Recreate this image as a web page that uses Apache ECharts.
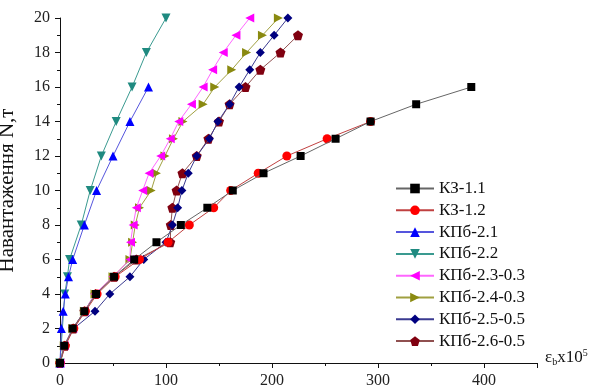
<!DOCTYPE html>
<html><head><meta charset="utf-8">
<script src="https://cdn.jsdelivr.net/npm/echarts@6/dist/echarts.min.js"></script>
<style>html,body{margin:0;padding:0;background:#fff}#c{width:591px;height:390px}</style>
</head><body><div id="c"></div>
<script>
const seriesNames = ['КЗ-1.1','КЗ-1.2','КПб-2.1','КПб-2.2','КПб-2.3-0.3','КПб-2.4-0.3','КПб-2.5-0.5','КПб-2.6-0.5'];
// strain (x) and load (y) per series
const k11_x = [0, 4, 12, 23, 34, 51, 70, 91, 114, 139, 163, 192, 227, 260, 293, 336, 388];
const k11_y = [0, 1, 2, 3, 4, 5, 6, 7, 8, 9, 10, 11, 12, 13, 14, 15, 16];
const k12_x = [0, 5, 13, 24, 35, 52, 75, 102, 122, 145, 161, 187, 214, 252, 293];
const k12_y = [0, 1, 2, 3, 4, 5, 6, 7, 8, 9, 10, 11, 12, 13, 14];
const p21_x = [0, 1.3, 3, 5, 8, 12, 23, 34.5, 50, 66, 83.5];
const p21_y = [0, 2, 3, 4, 5, 6, 8, 10, 12, 14, 16];
const p22_x = [0, 4.5, 7, 9, 20, 28.5, 39, 53, 68, 81.5, 100];
const p22_y = [0, 4, 5, 6, 8, 10, 12, 14, 16, 18, 20];
const p23_x = [0, 4, 12, 23, 33, 50, 66, 66.5, 69, 72, 78, 84, 95, 104, 112, 124, 135, 144, 154, 166, 179];
const p23_y = [0, 1, 2, 3, 4, 5, 6, 7, 8, 9, 10, 11, 12, 13, 14, 15, 16, 17, 18, 19, 20];
const p24_x = [0, 4, 12, 23, 33, 50, 66, 68.5, 71, 75, 86, 91, 99, 107, 116, 135, 146, 162, 176, 191, 206];
const p24_y = [0, 1, 2, 3, 4, 5, 6, 7, 8, 9, 10, 11, 12, 13, 14, 15, 16, 17, 18, 19, 20];
const p25_x = [0, 4, 13, 33, 47, 66, 79, 100, 106, 111, 115, 121, 129, 141, 149, 160, 169, 179, 189, 202, 215];
const p25_y = [0, 1, 2, 3, 4, 5, 6, 7, 8, 9, 10, 11, 12, 13, 14, 15, 16, 17, 18, 19, 20];
const p26_x = [0, 4.5, 12.5, 23, 33.5, 51, 72, 104, 104.5, 106, 110, 115.5, 129, 140, 150, 160, 175, 189, 208, 224.5];
const p26_y = [0, 1, 2, 3, 4, 5, 6, 7, 8, 9, 10, 11, 12, 13, 14, 15, 16, 17, 18, 19];
const xTicks = [0, 100, 200, 300, 400];
const yTicks = [0, 2, 4, 6, 8, 10, 12, 14, 16, 18, 20];

const xs = [k11_x, k12_x, p21_x, p22_x, p23_x, p24_x, p25_x, p26_x];
const ys = [k11_y, k12_y, p21_y, p22_y, p23_y, p24_y, p25_y, p26_y];
const colors = ['#000000','#ff0000','#0000ff','#1f8a80','#ff00ff','#8a8a10','#000080','#800010'];
const lineColors = ['#666666','#c04040','#5555dd','#3a9a90','#ff66ff','#a0a040','#3a3a90','#905050'];
const pent = 'path://M0,-10 L9.51,-3.09 L5.88,8.09 L-5.88,8.09 L-9.51,-3.09 Z';
const symbols = ['rect','circle','triangle','triangle','triangle','triangle','diamond',pent];
const rot = [0,0,0,180,90,-90,0,0];
const sizes = [8,9,9,9,9,9,9,10];
const FONT = '"Liberation Serif", "DejaVu Serif", serif';

const series = seriesNames.map((n,i)=>({
  name:n, type:'line',
  data: xs[i].map((x,j)=>[x, ys[i][j]]),
  symbol: symbols[i], symbolRotate: rot[i], symbolSize: sizes[i],
  itemStyle:{color:colors[i]},
  lineStyle:{color:lineColors[i], width:1},
  z: 10 - i,
  animation:false
}));

const chart = echarts.init(document.getElementById('c'), null, {renderer:'canvas'});
chart.setOption({
  backgroundColor:'#fff',
  animation:false,
  grid:{left:60, right:54, top:18, bottom:27, containLabel:false, outerBoundsMode:'none'},
  legend:{
    orient:'vertical', left:390, top:175, itemWidth:38, itemHeight:12, itemGap:4.8,
    textStyle:{fontFamily:FONT, fontSize:17, color:'#111', padding:[0,0,0,0]},
    data: seriesNames
  },
  xAxis:{
    type:'value', min:0, max:450, interval:100,
    name:'{e|ε}{s|b}{t|x10}{p|5}', nameLocation:'end', nameGap:8,
    nameTextStyle:{fontFamily:FONT, color:'#111', verticalAlign:'middle', padding:[0,0,10,0],
      rich:{e:{fontSize:17, fontFamily:FONT}, s:{fontSize:10, fontFamily:FONT, padding:[8,0,0,0]}, t:{fontSize:17, fontFamily:FONT}, p:{fontSize:10, fontFamily:FONT, padding:[0,0,9,0]}}},
    axisLine:{show:true, lineStyle:{color:'#111', width:1}},
    axisTick:{show:true, inside:false, length:5, lineStyle:{color:'#111'}},
    minorTick:{show:true, splitNumber:2, length:3, lineStyle:{color:'#111'}},
    splitLine:{show:false},
    axisLabel:{fontFamily:FONT, fontSize:16, color:'#222', margin:10, showMaxLabel:false,
      formatter:v=> xTicks.includes(v) ? String(v) : ''}
  },
  yAxis:{
    type:'value', min:0, max:20, interval:2,
    name:'Навантаження N,т', nameLocation:'middle', nameGap:42, nameMoveOverlap:false,
    nameTextStyle:{fontFamily:FONT, fontSize:21, color:'#111'},
    axisLine:{show:true, lineStyle:{color:'#111', width:1}},
    axisTick:{show:true, inside:false, length:5, lineStyle:{color:'#111'}},
    minorTick:{show:true, splitNumber:2, length:3, lineStyle:{color:'#111'}},
    splitLine:{show:false},
    axisLabel:{fontFamily:FONT, fontSize:16, color:'#222', margin:10,
      formatter:v=> yTicks.includes(v) ? String(v) : ''}
  },
  series: series
});
</script></body></html>
